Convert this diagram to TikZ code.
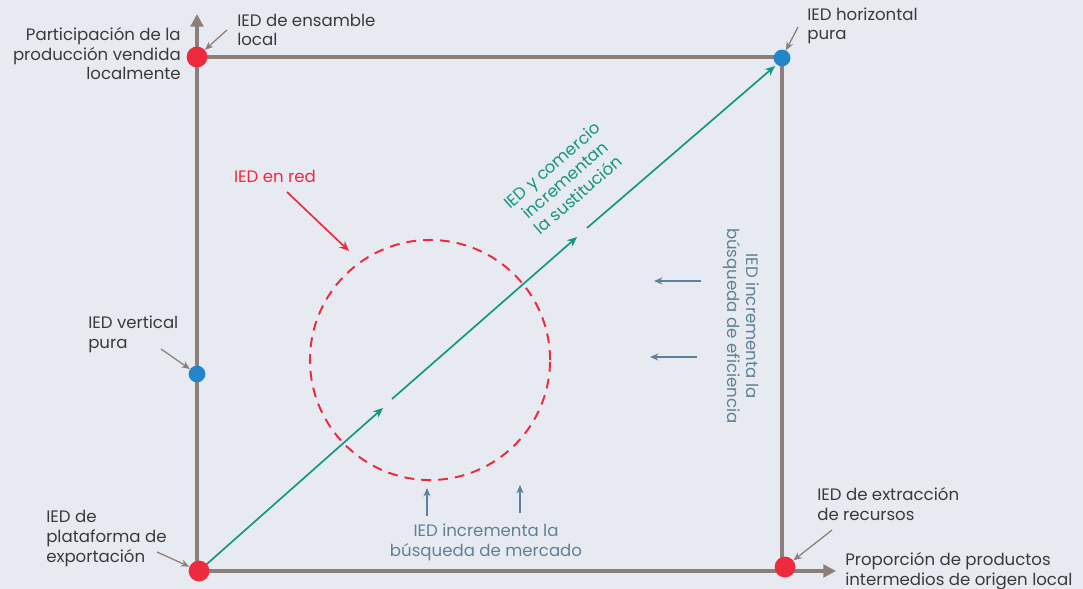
\documentclass[tikz,border=0pt]{standalone}
\usepackage{fontspec}
\setmainfont{Poppins}
\usetikzlibrary{arrows.meta}
\definecolor{fondo}{HTML}{E8EAF1}
\definecolor{eje}{HTML}{8C7F79}
\definecolor{rojo}{HTML}{EE2A3E}
\definecolor{azul}{HTML}{2386CB}
\definecolor{verde}{HTML}{13977F}
\definecolor{pizarra}{HTML}{5E8198}
\definecolor{texto}{HTML}{3A3A3A}

\begin{document}
\begin{tikzpicture}[x=0.025cm, y=-0.025cm, font=\fontsize{11.8}{14}\selectfont,
    eje/.style={draw=eje, line width=2.8pt},
    puntorojo/.style={circle, fill=rojo, inner sep=0pt, minimum size=0.52cm},
    puntoazul/.style={circle, fill=azul, inner sep=0pt, minimum size=0.42cm},
    flechagris/.style={draw=eje, line width=0.9pt, -{Stealth[length=6pt, width=5pt]}},
    flechaazul/.style={draw=pizarra, line width=1pt, -{Stealth[length=6pt, width=5pt]}},
    flechaverde/.style={draw=verde, line width=1.2pt, -{Stealth[length=7pt, width=6pt]}},
    etiqueta/.style={text=texto, inner sep=0pt}]
    %% background, sets the size of the page
        \fill[fondo] (0,0) rectangle (1083,589);
        \useasboundingbox (0,0) rectangle (1083,589);
    %% the two axes and the box
        \coordinate (origen) at (197,571);
        \coordinate (ytope) at (197,14);
        \coordinate (xfin) at (836,571);
        \draw[eje, -{Triangle[length=9pt, width=9pt]}] (origen) -- (ytope);
        \draw[eje, -{Triangle[length=9pt, width=9pt]}] (origen) -- (xfin);
        \draw[eje] (197,57) -- (782,57) -- (782,571);
    %% dashed circle of the network
        \coordinate (redc) at (430,360);
        \draw[rojo, line width=1.4pt, dash pattern=on 7pt off 5pt] (redc) circle[radius=3cm];
    %% the green diagonal, in three pieces
        \coordinate (v1) at (383,408);
        \coordinate (v2) at (392,399);
        \coordinate (v3) at (577,237);
        \coordinate (v4) at (587,228);
        \coordinate (v5) at (775,66);
        \draw[flechaverde] (199,571) -- (v1);
        \draw[flechaverde] (v2) -- (v3);
        \draw[flechaverde] (v4) -- (v5);
        \node[text=verde, rotate=41.2, align=center] (sustitucion) at (565,180)
            {IED y comercio\\incrementan\\la sustitución};
    %% the points
        \node[puntorojo] (ensamble) at (197,57) {};
        \node[puntoazul] (horizontal) at (782,58) {};
        \node[puntoazul] (vertical) at (197,374) {};
        \node[puntorojo] (plataforma) at (199,571) {};
        \node[puntorojo] (extraccion) at (785,567) {};
    %% labels of the axes (base = last line)
        \node[etiqueta, anchor=base east, align=right] (ylabel) at (181,80)
            {Participación de la\\producción vendida\\localmente};
        \node[etiqueta, anchor=base west, align=left] (xlabel) at (845,585)
            {Proporción de productos\\intermedios de origen local};
    %% labels of the points
        \node[etiqueta, anchor=base west, align=left] (tensamble) at (237,46) {IED de ensamble\\local};
        \node[etiqueta, anchor=base west, align=left] (thorizontal) at (807,40) {IED horizontal\\pura};
        \node[etiqueta, anchor=base west, align=left] (tvertical) at (88,348) {IED vertical\\pura};
        \node[etiqueta, anchor=base west, align=left] (tplataforma) at (46,562) {IED de\\plataforma de\\exportación};
        \node[etiqueta, anchor=base west, align=left] (textraccion) at (817,520) {IED de extracción\\de recursos};
        \coordinate (a1) at (227,30);
        \coordinate (a2) at (798,27);
        \coordinate (a3) at (161,349);
        \coordinate (a4) at (157,552);
        \coordinate (a5) at (832,530);
        \draw[flechagris] (a1) -- (ensamble);
        \draw[flechagris] (a2) -- (horizontal);
        \draw[flechagris] (a3) -- (vertical);
        \draw[flechagris] (a4) -- (plataforma);
        \draw[flechagris] (a5) -- (extraccion);
    %% network label
        \node[text=rojo, inner sep=0pt, anchor=base] (tred) at (275,183) {IED en red};
        \coordinate (r1) at (287,192);
        \coordinate (r2) at (349,251);
        \draw[rojo, line width=1.2pt, -{Stealth[length=7pt, width=6pt]}] (r1) -- (r2);
    %% efficiency and market
        \node[text=pizarra, rotate=-90, align=center] (eficiencia) at (741,326)
            {IED incrementa la\\búsqueda de eficiencia};
        \coordinate (e1) at (701,281);
        \coordinate (e2) at (654,281);
        \coordinate (e3) at (697,357);
        \coordinate (e4) at (650,357);
        \draw[flechaazul] (e1) -- (e2);
        \draw[flechaazul] (e3) -- (e4);
        \node[text=pizarra, inner sep=0pt, anchor=base, align=center] (mercado) at (486,556)
            {IED incrementa la\\búsqueda de mercado};
        \coordinate (m1) at (427,516);
        \coordinate (m2) at (427,488);
        \coordinate (m3) at (520,513);
        \coordinate (m4) at (520,485);
        \draw[flechaazul] (m1) -- (m2);
        \draw[flechaazul] (m3) -- (m4);
    %\draw[help lines, step=50] (0,0) grid (1083,589);
\end{tikzpicture}
\end{document}
